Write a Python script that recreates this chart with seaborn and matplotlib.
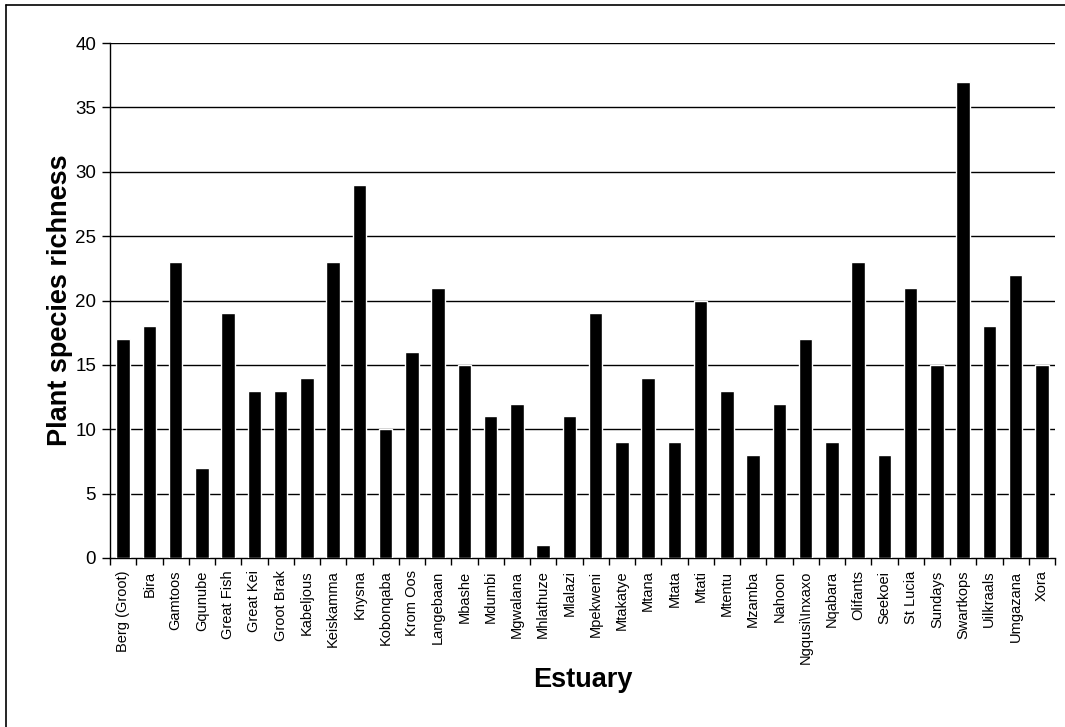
import seaborn as sns
import matplotlib.pyplot as plt
from matplotlib.lines import Line2D
import pandas as pd
import numpy as np

estuaries = ["Berg (Groot)", "Bira", "Gamtoos", "Gqunube", "Great Fish", "Great Kei",
             "Groot Brak", "Kabeljous", "Keiskamma", "Knysna", "Kobonqaba", "Krom Oos",
             "Langebaan", "Mbashe", "Mdumbi", "Mgwalana", "Mhlathuze", "Mlalazi",
             "Mpekweni", "Mtakatye", "Mtana", "Mtata", "Mtati", "Mtentu", "Mzamba",
             "Nahoon", "Ngqusi\\Inxaxo", "Nqabara", "Olifants", "Seekoei", "St Lucia",
             "Sundays", "Swartkops", "Uilkraals", "Umgazana", "Xora"]
richness = [17, 18, 23, 7, 19, 13, 13, 14, 23, 29, 10, 16, 21, 15, 11, 12, 1, 11,
            19, 9, 14, 9, 20, 13, 8, 12, 17, 9, 23, 8, 21, 15, 37, 18, 22, 15]
y_ticks = [0, 5, 10, 15, 20, 25, 30, 35, 40]

df = pd.DataFrame({"Estuary": estuaries, "Richness": richness})

sns.set_style("white")
plt.rcParams['font.family'] = ['Liberation Sans', 'DejaVu Sans']
plt.rcParams['text.color'] = 'black'
plt.rcParams['axes.labelcolor'] = 'black'
plt.rcParams['xtick.color'] = 'black'
plt.rcParams['ytick.color'] = 'black'

fig = plt.figure(figsize=(10.65, 7.27), dpi=100)
ax = fig.add_axes([110 / 1065, 1 - 558 / 727, 945 / 1065, 515 / 727])

sns.barplot(data=df, x="Estuary", y="Richness", color="black", width=0.52,
            saturation=1, ax=ax, zorder=3)

# black horizontal gridlines
for v in y_ticks[1:]:
    ax.axhline(v, color="black", lw=1, zorder=1)

ax.set_ylim(0, 40)
ax.set_xlim(-0.5, len(estuaries) - 0.5)
ax.set_yticks(y_ticks)
ax.tick_params(axis="y", labelsize=13.5, direction="out", length=6, width=1,
               left=True, color="black", pad=4)

# category labels centred, ticks between categories
ax.set_xticks(np.arange(len(estuaries)))
ax.set_xticklabels(estuaries, rotation=90, fontsize=10.5)
ax.set_xticks(np.arange(len(estuaries) + 1) - 0.5, minor=True)
ax.tick_params(axis="x", which="major", length=0, pad=9)
ax.tick_params(axis="x", which="minor", length=5, width=1, bottom=True,
               direction="out", color="black")

for s in ["top", "right"]:
    ax.spines[s].set_visible(False)
for s in ["left", "bottom"]:
    ax.spines[s].set_color("black")
    ax.spines[s].set_linewidth(1)

ax.set_ylabel("Plant species richness", fontsize=19.5, fontweight="bold", va="center")
ax.yaxis.set_label_coords(-0.053, 0.5)
ax.set_xlabel("Estuary", fontsize=19.5, fontweight="bold", va="center")
ax.xaxis.set_label_coords(0.5, -0.237)

# outer frame (left and top edges)
fig.add_artist(Line2D([6 / 1065, 6 / 1065], [0, 1 - 5 / 727], color="black", lw=1.2))
fig.add_artist(Line2D([6 / 1065, 1], [1 - 5 / 727, 1 - 5 / 727], color="black", lw=1.2))

plt.savefig("out.png", dpi=100)
plt.close()
